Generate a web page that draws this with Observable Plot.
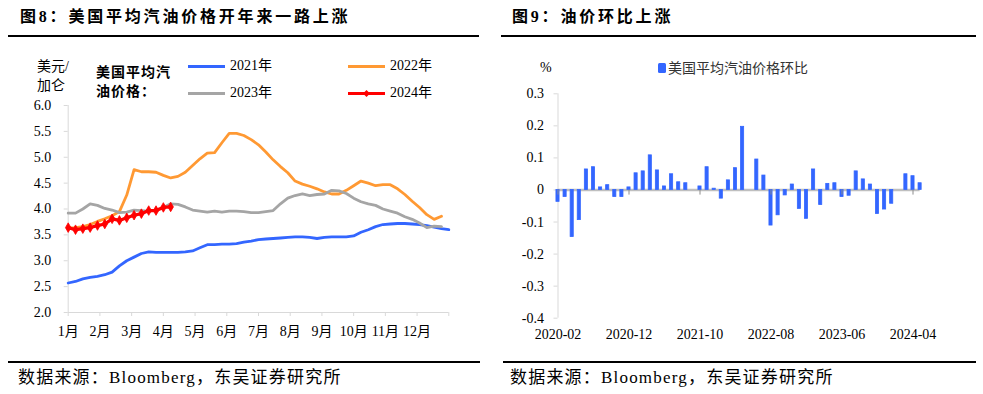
<!DOCTYPE html>
<html><head><meta charset="utf-8">
<script src="https://cdn.jsdelivr.net/npm/d3@7"></script>
<script src="https://cdn.jsdelivr.net/npm/@observablehq/plot@0.6"></script>
<style>
html,body{margin:0;padding:0;background:#fff;}
body{width:983px;height:394px;position:relative;overflow:hidden;font-family:"Liberation Serif","Noto Sans CJK SC",serif;color:#000;}
.t{position:absolute;white-space:nowrap;line-height:20px;}
.title{font-size:16px;font-weight:bold;letter-spacing:2.8px;}
.src{font-size:17px;letter-spacing:1.2px;}
.hr{position:absolute;height:2px;background:#000;}
.lg{font-size:14px;}
.lgline{position:absolute;height:3px;}
#left,#right{position:absolute;top:40px;}
#left{left:0;} #right{left:490px;}
</style>
</head><body>
<div class="t title" style="left:20px;top:7px">图8：美国平均汽油价格开年来一路上涨</div>
<div class="t title" style="left:512px;top:7px">图9：油价环比上涨</div>
<div class="hr" style="left:8px;width:471px;top:35px"></div>
<div class="hr" style="left:501px;width:475px;top:35px"></div>
<div class="hr" style="left:8px;width:472px;top:361px"></div>
<div class="hr" style="left:503px;width:473px;top:361px"></div>
<div class="t src" style="left:18px;top:368px">数据来源：Bloomberg，东吴证券研究所</div>
<div class="t src" style="left:510px;top:368px">数据来源：Bloomberg，东吴证券研究所</div>
<div id="left"></div>
<div id="right"></div>
<div id="overlay"></div>
<script>
// ---------- Figure 8 data: weekly US average gasoline price (USD/gal) ----------
const gas2021 = [2.57,2.60,2.65,2.68,2.70,2.73,2.78,2.90,3.00,3.07,3.14,3.17,3.16,3.16,3.16,3.16,3.17,3.19,3.25,3.31,3.31,3.32,3.32,3.33,3.36,3.38,3.41,3.42,3.43,3.44,3.45,3.46,3.46,3.45,3.43,3.45,3.46,3.46,3.46,3.48,3.55,3.60,3.66,3.70,3.71,3.72,3.72,3.71,3.70,3.68,3.65,3.62,3.60];
const gas2022 = [3.63,3.64,3.66,3.70,3.76,3.81,3.87,3.95,4.27,4.76,4.72,4.72,4.71,4.65,4.60,4.63,4.71,4.84,4.97,5.08,5.09,5.28,5.46,5.46,5.42,5.34,5.24,5.10,4.95,4.82,4.70,4.54,4.48,4.44,4.39,4.33,4.29,4.29,4.36,4.45,4.54,4.50,4.45,4.47,4.47,4.39,4.28,4.15,4.03,3.89,3.80,3.86];
const gas2023 = [3.92,3.92,4.00,4.10,4.07,4.01,3.98,3.93,3.94,3.98,3.97,3.96,3.98,4.03,4.10,4.09,4.04,3.98,3.96,3.94,3.96,3.94,3.96,3.96,3.95,3.93,3.93,3.95,3.97,4.10,4.21,4.26,4.29,4.26,4.28,4.29,4.36,4.35,4.30,4.21,4.14,4.10,4.07,4.00,3.96,3.92,3.85,3.80,3.73,3.64,3.67,3.66];
const gas2024 = [3.64,3.60,3.62,3.64,3.68,3.71,3.81,3.78,3.83,3.88,3.91,3.97,3.97,4.03,4.04];
const seriesNames = ["2021年","2022年","2023年","2024年"];
const seriesColors = ["#3366ff","#ff9933","#a5a5a5","#ff0000"];
const monthLabels = ["1月","2月","3月","4月","5月","6月","7月","8月","9月","10月","11月","12月"];
const leftYTicks = [2.0,2.5,3.0,3.5,4.0,4.5,5.0,5.5,6.0];
const weeksPerYear = 52;

// ---------- Figure 9 data: month-on-month change ----------
const momMonths = ["2020-02","2020-03","2020-04","2020-05","2020-06","2020-07","2020-08","2020-09","2020-10","2020-11","2020-12",
"2021-01","2021-02","2021-03","2021-04","2021-05","2021-06","2021-07","2021-08","2021-09","2021-10","2021-11","2021-12",
"2022-01","2022-02","2022-03","2022-04","2022-05","2022-06","2022-07","2022-08","2022-09","2022-10","2022-11","2022-12",
"2023-01","2023-02","2023-03","2023-04","2023-05","2023-06","2023-07","2023-08","2023-09","2023-10","2023-11","2023-12",
"2024-01","2024-02","2024-03","2024-04","2024-05"];
const momValues = [-0.037,-0.022,-0.147,-0.094,0.064,0.071,0.008,0.015,-0.022,-0.022,
0.008,0.052,0.058,0.108,0.061,0.011,0.049,0.024,0.021,0,
0.011,0.071,0.004,-0.027,0.030,0.068,0.197,0,0.095,0.045,
-0.111,-0.079,-0.017,0.017,-0.059,-0.090,0.064,-0.047,0.019,0.021,
-0.022,-0.018,0.058,0.033,0.017,-0.075,-0.061,-0.043,0,0.049,
0.043,0.021];
const momTickLabels = ["2020-02","2020-12","2021-10","2022-08","2023-06","2024-04"];
const rightYTicks = [-0.4,-0.3,-0.2,-0.1,0,0.1,0.2,0.3];
const momLegend = "美国平均汽油价格环比";
const momColor = "#3366ff";

const fontStack = '"Liberation Serif","Noto Sans CJK SC",serif';
const axisGray = "#d9d9d9";

// ---------- left chart ----------
const allSeries = [gas2021, gas2022, gas2023, gas2024];
const rows = allSeries.map((arr, s) => arr.map((v, w) => ({week: w, value: v, series: seriesNames[s]})));
const monthTicks = d3.range(13).map(k => k * weeksPerYear / 12);

const left = Plot.plot({
  width: 480, height: 310,
  marginLeft: 67.7, marginRight: 31.7, marginTop: 65, marginBottom: 38,
  x: {domain: [0, weeksPerYear]},
  y: {domain: [2, 6]},
  style: {fontFamily: fontStack, fontSize: "14px", background: "transparent", overflow: "visible", color: "#000"},
  marks: [
    Plot.ruleX([0], {stroke: axisGray}),
    Plot.ruleY([2], {stroke: axisGray}),
    Plot.axisY({ticks: leftYTicks, tickSize: 4, tickPadding: 13, stroke: axisGray, fill: "#000", fontSize: 14, tickFormat: d3.format(".1f"), label: null}),
    Plot.axisX({ticks: monthTicks, tickSize: 4, tickPadding: 10, stroke: axisGray, fill: "#000", fontSize: 14, label: null,
      tickFormat: d => { const k = Math.round(d * 12 / weeksPerYear); return k < 12 ? monthLabels[k] : ""; }}),
    ...rows.map((r, s) => Plot.line(r, {x: "week", y: "value", stroke: seriesColors[s], strokeWidth: s === 3 ? 3.2 : 2.8, curve: "linear"})),
    Plot.dot(rows[3], {x: "week", y: "value", symbol: "diamond", r: 2.9, fill: seriesColors[3], stroke: seriesColors[3], strokeWidth: 0.8})
  ]
});
document.getElementById("left").appendChild(left);

// ---------- right chart ----------
const momRows = momValues.map((v, i) => ({i, month: momMonths[i], value: v}));
const tickIdx = momTickLabels.map(l => momMonths.indexOf(l));
const right = Plot.plot({
  width: 493, height: 310,
  marginLeft: 67.5, marginRight: 63.4, marginTop: 53.3, marginBottom: 32.3,
  x: {domain: [0, momMonths.length - 1]},
  y: {domain: [-0.4, 0.3]},
  style: {fontFamily: fontStack, fontSize: "14px", background: "transparent", overflow: "visible", color: "#000"},
  marks: [
    Plot.ruleX([0], {stroke: axisGray}),
    Plot.axisY({ticks: rightYTicks, tickSize: 4, tickPadding: 10, stroke: axisGray, fill: "#000", fontSize: 14, label: null,
      tickFormat: d => Math.abs(d) < 1e-9 ? "0" : d.toFixed(1)}),
    Plot.axisX({ticks: tickIdx, tickSize: 0, tickPadding: 11, fill: "#000", fontSize: 14, label: null,
      tickFormat: i => momMonths[i]}),
    Plot.ruleY([0], {stroke: "#bfbfbf", strokeWidth: 2.5}),
    Plot.rectY(momRows, {x1: d => d.i - 0.22, x2: d => d.i + 0.22, y1: 0, y2: "value", fill: momColor, stroke: momColor, strokeWidth: 0.8}),
    Plot.ruleX(tickIdx, {y1: 0, y2: -0.016, stroke: "#8c8c8c", strokeWidth: 1})
  ]
});
document.getElementById("right").appendChild(right);

// ---------- labels and legends ----------
const ov = document.getElementById("overlay");
function txt(s, x, cy, extra) {
  const d = document.createElement("div");
  d.className = "t lg";
  d.textContent = s;
  d.style.left = x + "px";
  d.style.top = (cy - 10) + "px";
  if (extra) Object.assign(d.style, extra);
  ov.appendChild(d);
  return d;
}
txt("美元/", 37, 67);
txt("加仑", 37, 86);
txt("美国平均汽", 96, 73, {fontWeight: "bold", letterSpacing: "1px"});
txt("油价格：", 96, 92, {fontWeight: "bold", letterSpacing: "1px"});
const legendPos = [[188, 66], [348, 66], [188, 93], [348, 93]];
seriesNames.forEach((n, s) => {
  const [x, y] = legendPos[s];
  const l = document.createElement("div");
  l.className = "lgline";
  Object.assign(l.style, {left: x + "px", top: (y - 1.5) + "px", width: "37px", background: seriesColors[s]});
  ov.appendChild(l);
  if (s === 3) {
    const m = document.createElement("div");
    Object.assign(m.style, {position: "absolute", left: (x + 16) + "px", top: (y - 2.5) + "px", width: "5px", height: "5px", background: seriesColors[s], transform: "rotate(45deg)"});
    ov.appendChild(m);
  }
  txt(n, x + 42, y);
});
txt("%", 540, 68);
const sq = document.createElement("div");
Object.assign(sq.style, {position: "absolute", left: "658px", top: "63px", width: "8px", height: "10px", background: momColor, borderRadius: "1.5px"});
ov.appendChild(sq);
txt(momLegend, 668, 69, {color: "#333"});
</script>
</body></html>
